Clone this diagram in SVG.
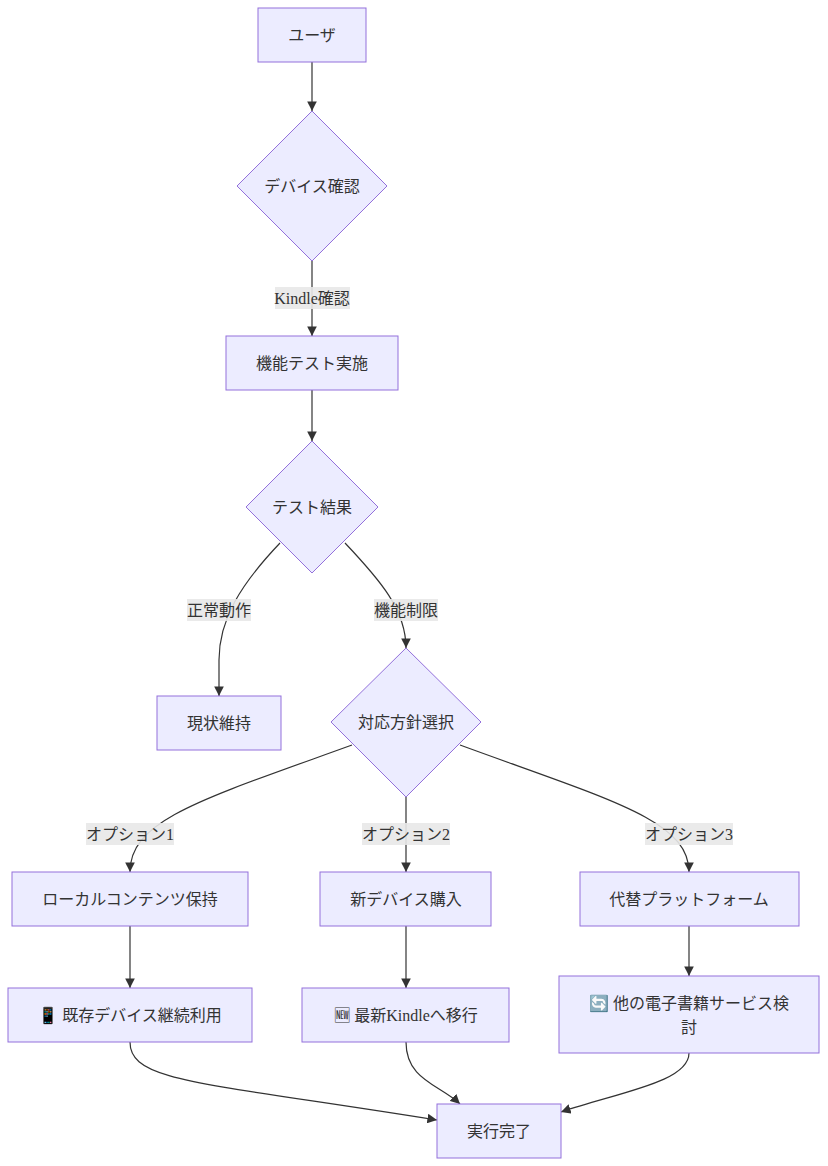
<svg xmlns="http://www.w3.org/2000/svg" width="828" height="1166" viewBox="0 0 828 1166">
<style>
.n{fill:#ECECFF;stroke:#9370DB;stroke-width:1}
.t{font-family:"Liberation Serif","Noto Sans CJK JP",serif;font-size:16px;fill:#333;text-anchor:middle;dominant-baseline:central}
.e{fill:none;stroke:#333;stroke-width:1.2;marker-end:url(#a)}
.lb{fill:#e8e8e8;opacity:0.9}
</style>
<defs><marker id="a" viewBox="0 0 10 10" refX="10" refY="5" markerWidth="8" markerHeight="8" orient="auto"><path d="M0,0L10,5L0,10z" fill="#333"/></marker></defs>
<rect width="828" height="1166" fill="#fff"/>
<g id="edges">
<path class="e" d="M312,62L312,111"/>
<path class="e" d="M312,261L312,336"/>
<path class="e" d="M312,390L312,441"/>
<path class="e" d="M280,543C240,585 219,620 219,660L219,696"/>
<path class="e" d="M345,543C380,580 406,610 406,648"/>
<path class="e" d="M352,745C200,800 130,820 130,872"/>
<path class="e" d="M406,797L406,872"/>
<path class="e" d="M460,745C610,800 689,820 689,872"/>
<path class="e" d="M130,926L130,988"/>
<path class="e" d="M406,926L406,988"/>
<path class="e" d="M689,926L689,976"/>
<path class="e" d="M130,1042C130,1082 200,1082 437,1120"/>
<path class="e" d="M406,1042C406,1080 440,1085 460,1104"/>
<path class="e" d="M689,1053C689,1082 620,1092 561,1112"/>
<rect class="lb" x="275" y="287" width="75" height="22"/><text class="t" x="312" y="298">Kindle確認</text>
<rect class="lb" x="187" y="599" width="64" height="22"/><text class="t" x="219" y="610">正常動作</text>
<rect class="lb" x="374" y="599" width="64" height="22"/><text class="t" x="406" y="610">機能制限</text>
<rect class="lb" x="86" y="823" width="88" height="22"/><text class="t" x="130" y="834">オプション1</text>
<rect class="lb" x="362" y="823" width="88" height="22"/><text class="t" x="406" y="834">オプション2</text>
<rect class="lb" x="645" y="823" width="88" height="22"/><text class="t" x="689" y="834">オプション3</text>
</g>
<g id="n1"><rect class="n" x="258" y="8" width="108" height="54"/><text class="t" x="312" y="35">ユーザ</text></g>
<g id="n2"><polygon class="n" points="312,111 387,186 312,261 237,186"/><text class="t" x="312" y="186">デバイス確認</text></g>
<g id="n3"><rect class="n" x="226" y="336" width="172" height="54"/><text class="t" x="312" y="363">機能テスト実施</text></g>
<g id="n4"><polygon class="n" points="312,441 378,507 312,573 246,507"/><text class="t" x="312" y="507">テスト結果</text></g>
<g id="n5"><rect class="n" x="157" y="696" width="124" height="54"/><text class="t" x="219" y="723">現状維持</text></g>
<g id="n6"><polygon class="n" points="406,648 481,722 406,797 331,722"/><text class="t" x="406" y="722">対応方針選択</text></g>
<g id="n7"><rect class="n" x="12" y="872" width="236" height="54"/><text class="t" x="130" y="899">ローカルコンテンツ保持</text></g>
<g id="n8"><rect class="n" x="320" y="872" width="171" height="54"/><text class="t" x="406" y="899">新デバイス購入</text></g>
<g id="n9"><rect class="n" x="580" y="872" width="219" height="54"/><text class="t" x="689" y="899">代替プラットフォーム</text></g>
<g id="n10"><rect class="n" x="8" y="988" width="244" height="54"/><text class="t" x="130" y="1015">📱 既存デバイス継続利用</text></g>
<g id="n11"><rect class="n" x="302" y="988" width="207" height="54"/><text class="t" x="406" y="1015">🆕 最新Kindleへ移行</text></g>
<g id="n12"><rect class="n" x="559" y="976" width="260" height="77"/><text class="t" x="689" y="1003">🔄 他の電子書籍サービス検</text><text class="t" x="689" y="1027">討</text></g>
<g id="n13"><rect class="n" x="437" y="1104" width="124" height="54"/><text class="t" x="499" y="1131">実行完了</text></g>
</svg>
